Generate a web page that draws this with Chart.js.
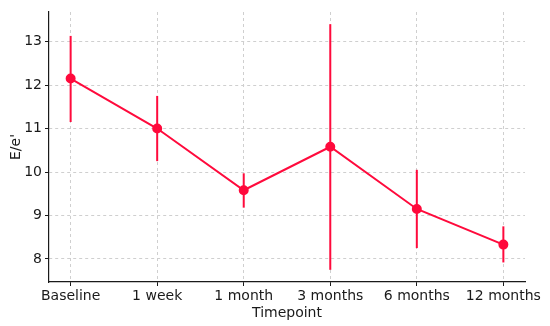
<!DOCTYPE html>
<html>
<head>
<meta charset="utf-8">
<script src="https://cdn.jsdelivr.net/npm/chart.js@4/dist/chart.umd.min.js"></script>
<style>
  html, body { margin: 0; padding: 0; background: #fff; }
  #wrap { width: 550px; height: 326px; }
</style>
</head>
<body>
<div id="wrap"><canvas id="chart"></canvas></div>
<script>
// data
const timepoints = ['Baseline', '1 week', '1 month', '3 months', '6 months', '12 months'];
const meanValues = [12.15, 11.0, 9.58, 10.58, 9.15, 8.33];
const errLow = [11.15, 10.25, 9.18, 7.75, 8.25, 7.92];
const errHigh = [13.13, 11.75, 9.97, 13.4, 10.05, 8.75];
const yTicks = [8, 9, 10, 11, 12, 13];

const red = '#ff0a3c';

// vertical error bars, positioned through the chart scales
const errorBars = {
    id: 'errorBars',
    afterDatasetsDraw(chart) {
        const { ctx, scales: { x, y } } = chart;
        ctx.save();
        ctx.strokeStyle = red;
        ctx.lineWidth = 2;
        timepoints.forEach((t, i) => {
            const px = x.getPixelForValue(i);
            ctx.beginPath();
            ctx.moveTo(px, y.getPixelForValue(errLow[i]));
            ctx.lineTo(px, y.getPixelForValue(errHigh[i]));
            ctx.stroke();
        });
        ctx.restore();
    }
};

Chart.defaults.font.family = 'DejaVu Sans';
Chart.defaults.color = '#1a1a1a';

const gridOpts = {
    color: '#cfcfcf',
    tickLength: 4,
    tickColor: '#1a1a1a',
    tickBorderDash: [],
    lineWidth: 1
};

new Chart(document.getElementById('chart'), {
    type: 'line',
    data: {
        datasets: [{
            data: meanValues.map((v, i) => ({ x: i, y: v })),
            borderColor: red,
            backgroundColor: red,
            borderWidth: 2,
            pointRadius: 4,
            pointHoverRadius: 4,
            tension: 0
        }]
    },
    options: {
        responsive: true,
        maintainAspectRatio: false,
        animation: false,
        layout: { padding: { top: 12, right: 25, left: 4, bottom: 0 } },
        plugins: {
            legend: { display: false },
            tooltip: { enabled: false }
        },
        scales: {
            x: {
                type: 'linear',
                min: -0.25,
                max: 5.25,
                afterBuildTicks: axis => { axis.ticks = timepoints.map((t, i) => ({ value: i })); },
                afterFit: axis => { axis.height = 44; },
                ticks: {
                    callback: v => timepoints[v],
                    font: { size: 14 },
                    padding: 2,
                    maxRotation: 0,
                    autoSkip: false
                },
                grid: gridOpts,
                border: { display: true, color: '#1a1a1a', width: 1.2, dash: [3, 3] },
                title: {
                    display: true,
                    text: 'Timepoint',
                    font: { size: 14 },
                    padding: { top: 0 }
                }
            },
            y: {
                min: 7.47,
                max: 13.68,
                afterBuildTicks: axis => { axis.ticks = yTicks.map(v => ({ value: v })); },
                afterFit: axis => { axis.width = 45; },
                ticks: {
                    font: { size: 14 },
                    padding: 3
                },
                grid: gridOpts,
                border: { display: true, color: '#1a1a1a', width: 1.2, dash: [3, 3] },
                title: {
                    display: true,
                    text: "E/e'",
                    font: { size: 14 },
                    padding: { bottom: 0 }
                }
            }
        }
    },
    plugins: [errorBars]
});
</script>
</body>
</html>
